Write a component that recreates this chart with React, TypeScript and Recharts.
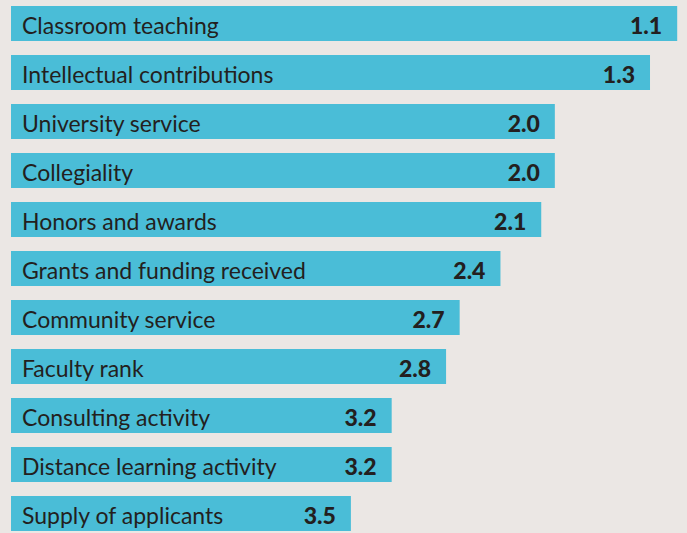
import { Bar, BarChart, LabelList, XAxis, YAxis } from "recharts";

const categories = [
  "Classroom teaching",
  "Intellectual contributions",
  "University service",
  "Collegiality",
  "Honors and awards",
  "Grants and funding received",
  "Community service",
  "Faculty rank",
  "Consulting activity",
  "Distance learning activity",
  "Supply of applicants",
];

const ranks = [1.1, 1.3, 2.0, 2.0, 2.1, 2.4, 2.7, 2.8, 3.2, 3.2, 3.5];

// bars start at the low-importance end of the axis and run toward the rank
const axisEnd = 6;

const data = categories.map((name, i) => ({
  name,
  rank: ranks[i],
  span: [axisEnd, ranks[i]],
}));

const textColor = "#231f20";
const font = "Lato, 'Open Sans', sans-serif";

function NameLabel(props: any) {
  const { x, y, width, height, index } = props;
  const left = Math.min(x, x + width);
  return (
    <text
      x={left + 11}
      y={y + height / 2 + 1}
      fill={textColor}
      fontFamily={font}
      fontSize={23}
      dominantBaseline="central"
    >
      {categories[index]}
    </text>
  );
}

function RankLabel(props: any) {
  const { x, y, width, height, index } = props;
  const right = Math.max(x, x + width);
  return (
    <text
      x={right - 15}
      y={y + height / 2 + 1}
      fill={textColor}
      fontFamily={font}
      fontWeight={900}
      fontSize={23}
      textAnchor="end"
      dominantBaseline="central"
    >
      {ranks[index].toFixed(1)}
    </text>
  );
}

export default function App() {
  return (
    <div
      style={{
        position: "fixed",
        top: 0,
        left: 0,
        width: 687,
        height: 533,
        background: "#ebe7e4",
        overflow: "hidden",
      }}
    >
      <div style={{ position: "absolute", top: -10, left: 0 }}>
        <BarChart
          width={687}
          height={560}
          data={data}
          layout="vertical"
          margin={{ top: 9, right: 3, left: 11, bottom: 12 }}
        >
          <XAxis type="number" domain={[1.05, axisEnd]} reversed hide allowDataOverflow />
          <YAxis type="category" dataKey="name" hide />
          <Bar dataKey="span" fill="#4abdd7" barSize={35} isAnimationActive={false}>
            <LabelList dataKey="name" content={NameLabel} />
            <LabelList dataKey="rank" content={RankLabel} />
          </Bar>
        </BarChart>
      </div>
    </div>
  );
}
